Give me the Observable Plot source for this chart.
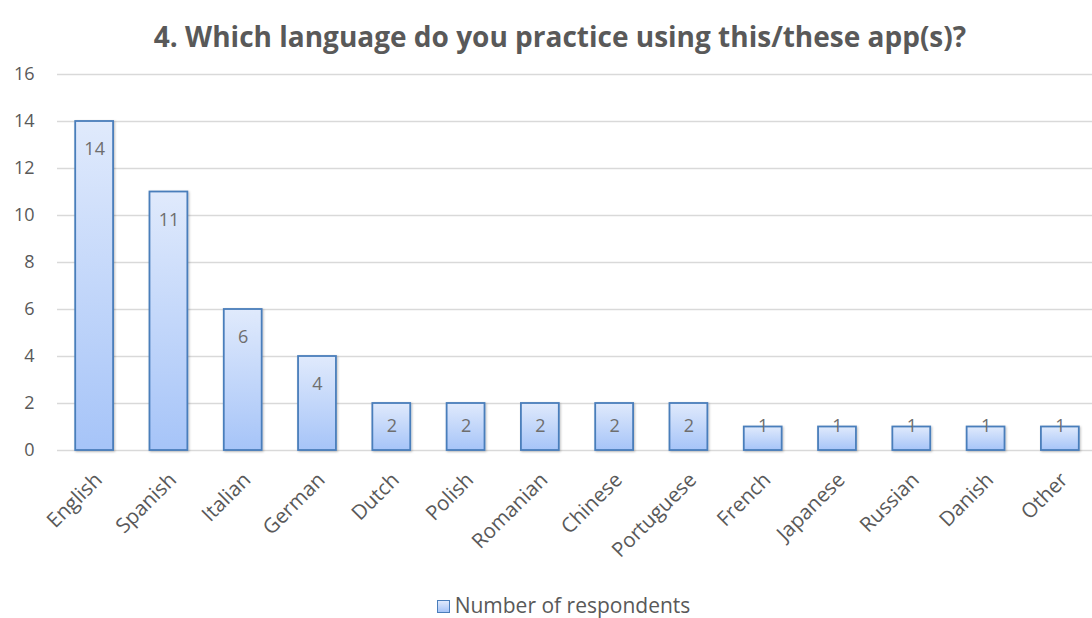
<!DOCTYPE html>
<html>
<head>
<meta charset="utf-8">
<script src="https://cdn.jsdelivr.net/npm/d3@7"></script>
<script src="https://cdn.jsdelivr.net/npm/@observablehq/plot@0.6"></script>
<style>
  html, body { margin: 0; padding: 0; background: #fff; }
  #wrap { position: relative; width: 1092px; height: 618px; overflow: hidden; font-family: "Open Sans", sans-serif; }
  #title { position: absolute; left: 0; width: 1120px; top: 17px; line-height: 38px; text-align: center; font-weight: bold; font-size: 28px; color: #595959; white-space: nowrap; }
  #legend { position: absolute; left: 0; width: 1127px; top: 591px; line-height: 28px; text-align: center; font-size: 21px; color: #595959; white-space: nowrap; }
  #legend .sw { display: inline-block; width: 11px; height: 11px; border: 1.5px solid #4a7ebb; background: linear-gradient(#e0eafc, #a6c4f8); vertical-align: 0px; margin-right: 5px; }
  #chart { position: absolute; left: 0; top: 0; }
</style>
</head>
<body>
<div id="wrap">
  <div id="chart"></div>
  <div id="title">4. Which language do you practice using this/these app(s)?</div>
  <div id="legend"><span class="sw"></span>Number of respondents</div>
</div>
<script>
const languages = ["English","Spanish","Italian","German","Dutch","Polish","Romanian","Chinese","Portuguese","French","Japanese","Russian","Danish","Other"];
const respondents = [14, 11, 6, 4, 2, 2, 2, 2, 2, 1, 1, 1, 1, 1];
const yTicks = [0, 2, 4, 6, 8, 10, 12, 14, 16];

const data = languages.map((l, i) => ({language: l, value: respondents[i]}));

const gradientDefs = () => {
  const ns = "http://www.w3.org/2000/svg";
  const defs = document.createElementNS(ns, "defs");
  defs.innerHTML = `
    <linearGradient id="barGrad" x1="0" y1="0" x2="0" y2="1">
      <stop offset="0%" stop-color="#e0eafc"/>
      <stop offset="100%" stop-color="#a6c4f8"/>
    </linearGradient>
    <filter id="shadow" x="-20%" y="-20%" width="140%" height="140%">
      <feDropShadow dx="1" dy="1" stdDeviation="1.2" flood-color="#000" flood-opacity="0.25"/>
    </filter>`;
  return defs;
};

const pxPerUnit = (450 - 74) / 16;

const chart = Plot.plot({
  width: 1092,
  height: 618,
  marginTop: 74,
  marginBottom: 168,
  marginLeft: 57,
  marginRight: 0,
  style: {fontFamily: "Open Sans, sans-serif", fontSize: "18px", color: "#595959", background: "white"},
  x: {type: "band", domain: languages, range: [57, 1097], paddingInner: 0.49, paddingOuter: 0.245, round: false, label: null},
  y: {domain: [0, 16], label: null},
  marks: [
    gradientDefs,
    Plot.ruleY(yTicks, {stroke: "#d9d9d9", strokeWidth: 1.5}),
    Plot.barY(data, {x: "language", y: "value", fill: "url(#barGrad)", stroke: "#4a7ebb", strokeWidth: 1.8}),
    Plot.text(data, {
      x: "language",
      y: d => Math.max(d.value - 28 / pxPerUnit, 24.5 / pxPerUnit),
      text: d => String(d.value),
      fill: "#6e6e6e",
      fontSize: 18,
      lineAnchor: "middle"
    }),
    Plot.axisY({ticks: yTicks, tickSize: 0, tickPadding: 23, fontSize: 18, fill: "#595959"}),
    Plot.axisX({tickSize: 0, tickPadding: 26, tickRotate: -45, fontSize: 20.5, fill: "#595959", dx: 4})
  ]
});
chart.querySelectorAll("g[aria-label='bar'] rect").forEach(r => r.setAttribute("filter", "url(#shadow)"));
document.getElementById("chart").appendChild(chart);
</script>
</body>
</html>
